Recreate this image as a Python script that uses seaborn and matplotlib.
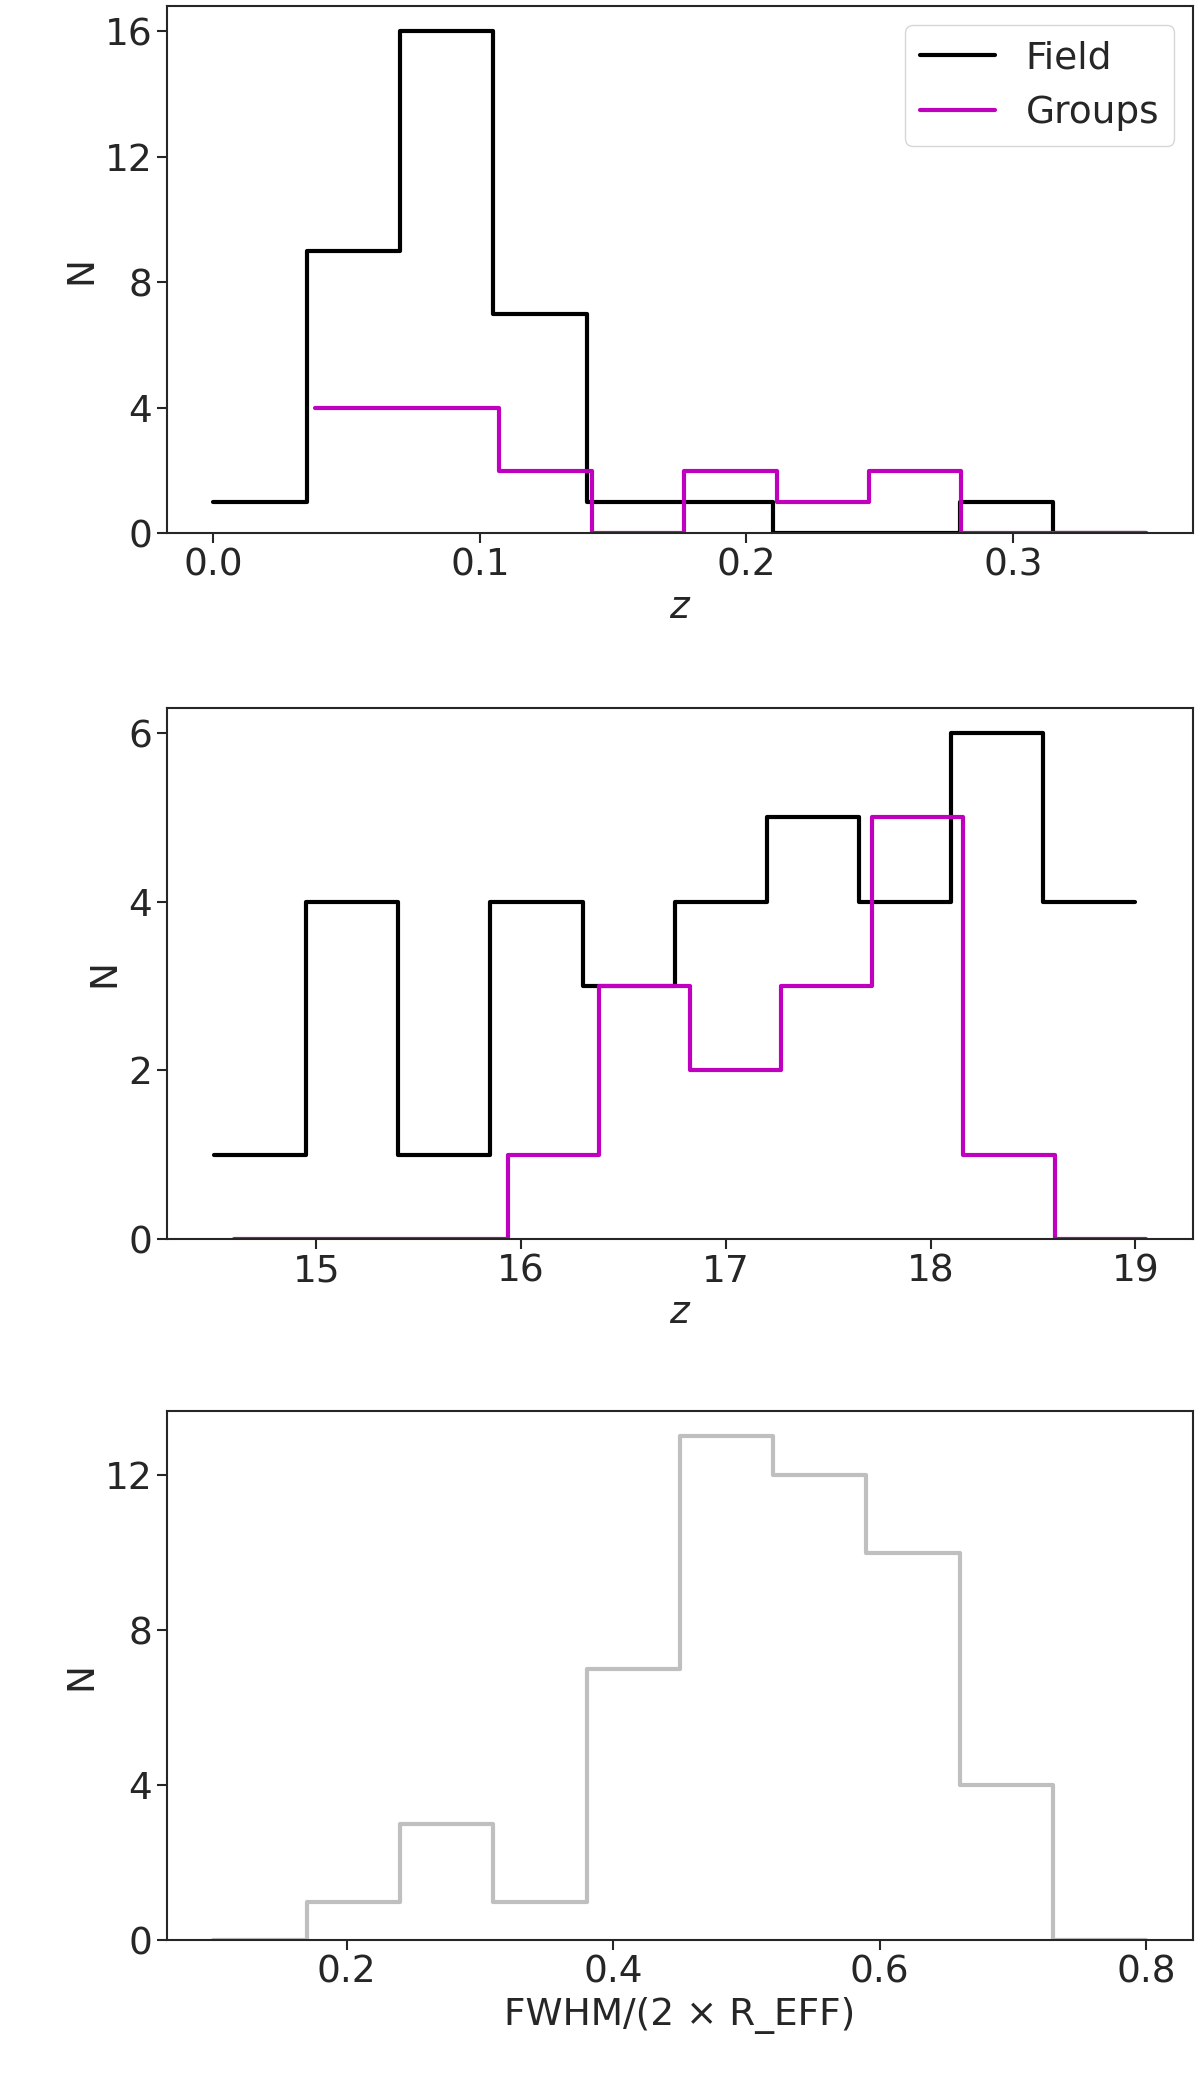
import numpy as np
import seaborn as sns
from matplotlib import pyplot as plt

sns.set_theme(style="ticks")
plt.rcParams['font.family'] = ['DejaVu Sans']
plt.rcParams['font.size'] = 27

# Panel 1: redshift
z_field_edges = np.linspace(0.0, 0.35, 11)
z_field_counts = [1, 9, 16, 7, 1, 1, 0, 0, 1, 0]
z_group_edges = np.linspace(0.038, 0.35, 10)
z_group_counts = [4, 4, 2, 0, 2, 1, 2, 0, 0]

# Panel 2: magnitude
m_field_edges = np.linspace(14.5, 19.0, 11)
m_field_counts = [1, 4, 1, 4, 3, 4, 5, 4, 6, 4]
m_group_edges = np.linspace(14.6, 19.05, 11)
m_group_counts = [0, 0, 0, 1, 3, 2, 3, 5, 1, 0]

# Panel 3: size ratio
r_edges = np.linspace(0.1, 0.8, 11)
r_counts = [0, 1, 3, 1, 7, 13, 12, 10, 4, 0]

fig = plt.figure(figsize=(12, 21), dpi=100)
axs = [fig.add_axes((0.139, 0.746, 0.855, 0.251)),
       fig.add_axes((0.139, 0.410, 0.855, 0.253)),
       fig.add_axes((0.139, 0.076, 0.855, 0.252))]


def step(ax, edges, counts, color, label=None):
    centres = list((edges[:-1] + edges[1:]) / 2)
    sns.histplot(x=centres, weights=list(counts), bins=list(edges),
                 element="step", fill=False, color=color, linewidth=3,
                 ax=ax, label=label)


step(axs[0], z_field_edges, z_field_counts, "black", "Field")
step(axs[0], z_group_edges, z_group_counts, "#bf00bf", "Groups")
axs[0].set(yticks=[0, 4, 8, 12, 16], xticks=[0.0, 0.1, 0.2, 0.3])
axs[0].set_xlim(-0.0175, 0.3675)
axs[0].legend(fontsize=27, loc="upper right", handlelength=2.0)
axs[0].set_xlabel("$z$")

step(axs[1], m_field_edges, m_field_counts, "black")
step(axs[1], m_group_edges, m_group_counts, "#bf00bf")
axs[1].set(yticks=[0, 2, 4, 6], xticks=[15, 16, 17, 18, 19])
axs[1].set_xlim(14.27, 19.28)
axs[1].set_xlabel("$z$")

step(axs[2], r_edges, r_counts, "#bfbfbf")
axs[2].set(yticks=[0, 4, 8, 12], xticks=[0.2, 0.4, 0.6, 0.8])
axs[2].set_xlim(0.065, 0.835)
axs[2].set_xlabel("FWHM/(2 × R_EFF)")

for ax in axs:
    ax.set_ylabel("N")
    ax.tick_params(labelsize=27, width=1.5, length=7)
    for s in ax.spines.values():
        s.set_linewidth(1.5)
    ax.xaxis.label.set_size(27)
    ax.yaxis.label.set_size(27)

fig.savefig("out.png", dpi=100)
